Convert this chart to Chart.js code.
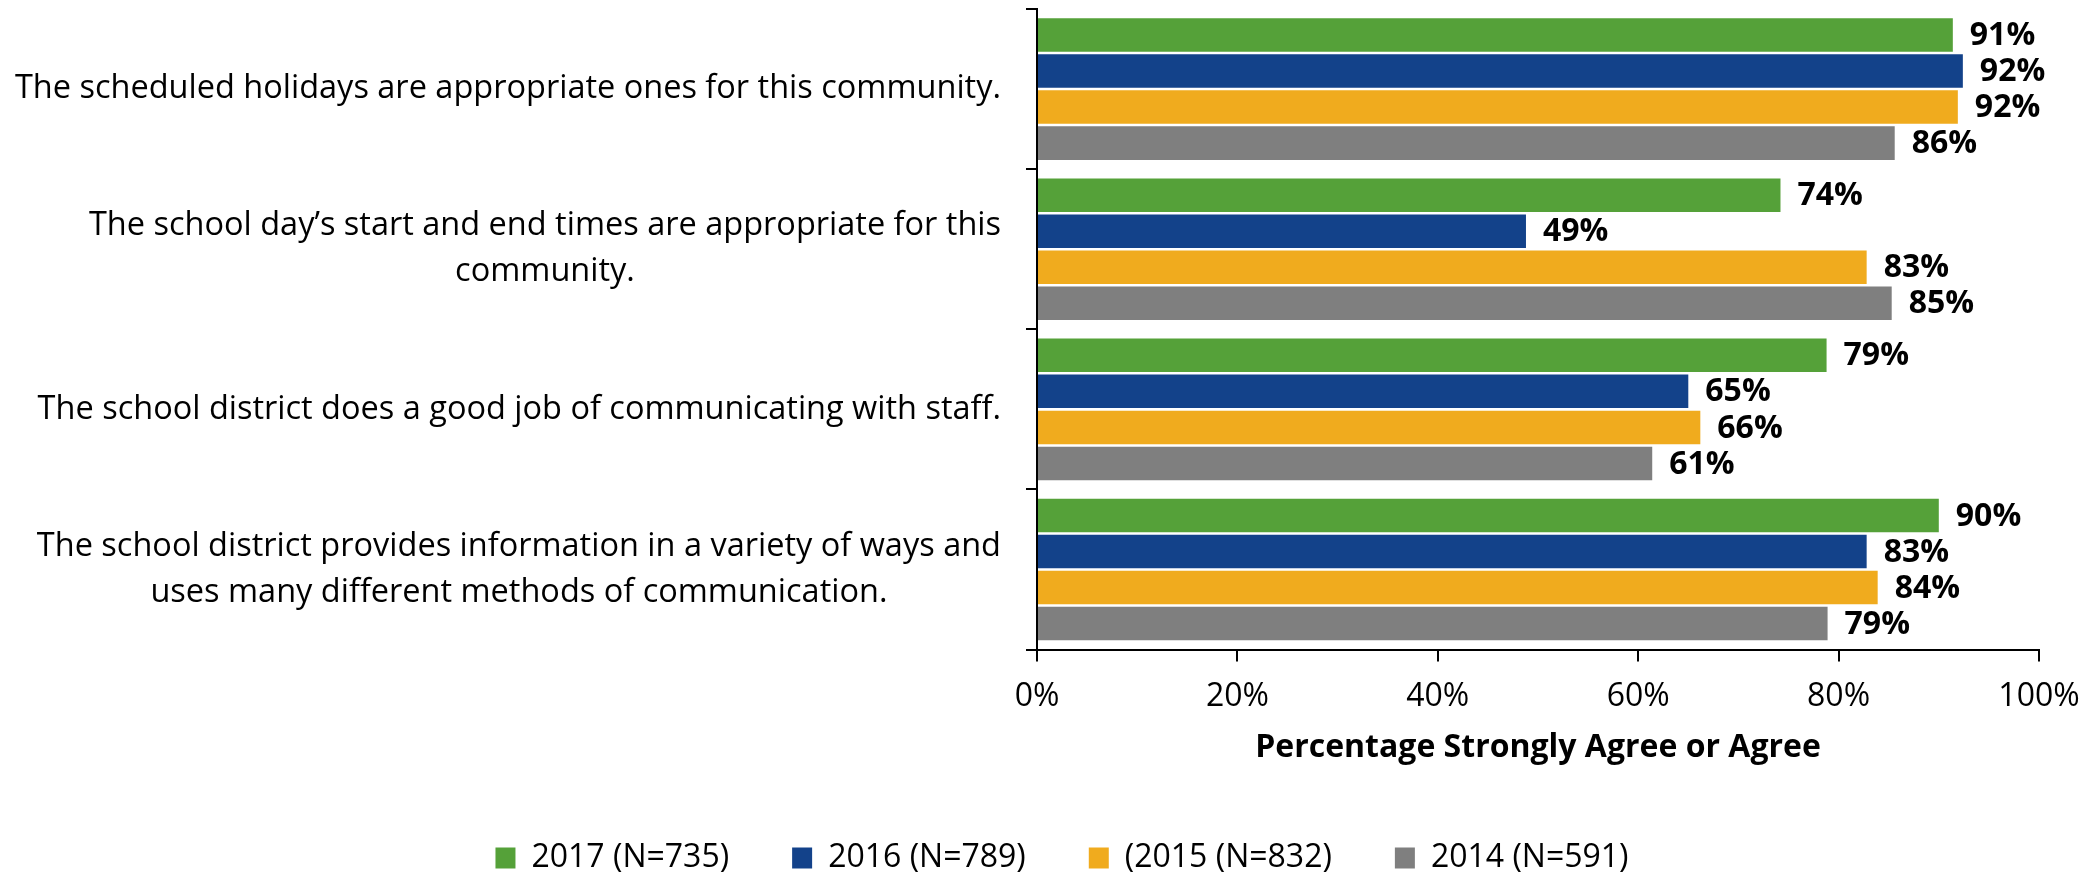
<!DOCTYPE html>
<html>
<head>
<meta charset="utf-8">
<script src="https://cdn.jsdelivr.net/npm/chart.js@4/dist/chart.umd.min.js"></script>
<style>
  html, body { margin: 0; padding: 0; background: #fff; overflow: hidden; }
  #wrap { width: 2099px; height: 884px; position: relative; }
</style>
</head>
<body>
<div id="wrap"><canvas id="chart"></canvas></div>
<script>
const categories = [
  ['The scheduled holidays are appropriate ones for this community.'],
  ['The school day\u2019s start and end times are appropriate for this', 'community.'],
  ['The school district does a good job of communicating with staff.'],
  ['The school district provides information in a variety of ways and', 'uses many different methods of communication.']
];
const seriesNames = ['2017 (N=735)', '2016 (N=789)', '(2015 (N=832)', '2014 (N=591)'];
const values2017 = [91.4, 74.2, 78.8, 90.0];
const values2016 = [92.4, 48.8, 65.0, 82.8];
const values2015 = [91.9, 82.8, 66.2, 83.9];
const values2014 = [85.6, 85.3, 61.4, 78.9];
const xTicks = [0, 20, 40, 60, 80, 100];

const COLORS = ['#55a139', '#13428a', '#f0ab1e', '#7f7f7f'];
const FONT = 'Open Sans';
const PAD_LEFT = 85;

// value labels at bar ends
const barLabels = {
  id: 'barLabels',
  afterDatasetsDraw(chart) {
    const ctx = chart.ctx;
    ctx.save();
    ctx.font = `bold 32px "${FONT}"`;
    ctx.fillStyle = '#000';
    ctx.textAlign = 'left';
    ctx.textBaseline = 'middle';
    chart.data.datasets.forEach((dataset, di) => {
      const meta = chart.getDatasetMeta(di);
      meta.data.forEach((bar, i) => {
        ctx.fillText(`${Math.round(dataset.data[i])}%`, bar.x + 17, bar.y + 1);
      });
    });
    ctx.restore();
  }
};

// category labels: block right aligned, lines centred within the block
const categoryLabels = {
  id: 'categoryLabels',
  afterDraw(chart) {
    const ctx = chart.ctx;
    const scale = chart.scales.y;
    const right = scale.right - 36;
    const lineHeight = 46;
    ctx.save();
    ctx.font = `32.5px "${FONT}"`;
    ctx.fillStyle = '#000';
    ctx.textAlign = 'center';
    ctx.textBaseline = 'middle';
    chart.data.labels.forEach((lines, i) => {
      const y = scale.getPixelForTick(i);
      const widest = Math.max(...lines.map((line) => ctx.measureText(line).width));
      const x = right - widest / 2;
      const top = y - (lines.length - 1) * lineHeight / 2;
      lines.forEach((line, li) => ctx.fillText(line, x, top + li * lineHeight));
    });
    ctx.restore();
  }
};

new Chart(document.getElementById('chart').getContext('2d'), {
  type: 'bar',
  data: {
    labels: categories,
    datasets: [values2017, values2016, values2015, values2014].map((data, index) => ({
      label: seriesNames[index],
      data,
      backgroundColor: COLORS[index],
      borderWidth: 0,
      categoryPercentage: 0.9,
      barPercentage: 0.93
    }))
  },
  options: {
    indexAxis: 'y',
    responsive: true,
    maintainAspectRatio: false,
    animation: false,
    devicePixelRatio: 1,
    layout: { padding: { top: 9, right: 60, left: PAD_LEFT, bottom: 0 } },
    plugins: {
      tooltip: { enabled: false },
      legend: {
        position: 'bottom',
        labels: {
          color: '#000',
          boxWidth: 20,
          boxHeight: 21,
          padding: 63,
          font: { family: FONT, size: 32 }
        }
      }
    },
    scales: {
      x: {
        min: 0,
        max: 100,
        afterBuildTicks: (scale) => { scale.ticks = xTicks.map((value) => ({ value })); },
        ticks: {
          color: '#000',
          padding: 16,
          font: { family: FONT, size: 32 },
          callback: (value) => `${value}%`
        },
        grid: { drawOnChartArea: false, drawTicks: true, tickLength: 12, color: '#000', lineWidth: 2 },
        border: { display: true, color: '#000', width: 2 },
        title: {
          display: true,
          text: 'Percentage Strongly Agree or Agree',
          color: '#000',
          font: { family: FONT, size: 32, weight: 'bold', lineHeight: 1.0 },
          padding: { top: 0, bottom: 15 }
        }
      },
      y: {
        ticks: { display: false },
        afterFit: (scale) => { scale.width = 1037 - PAD_LEFT; },
        grid: { drawOnChartArea: false, drawTicks: true, tickLength: 11, color: '#000', lineWidth: 2, offset: true },
        border: { display: true, color: '#000', width: 2 }
      }
    }
  },
  plugins: [barLabels, categoryLabels]
});
</script>
</body>
</html>
